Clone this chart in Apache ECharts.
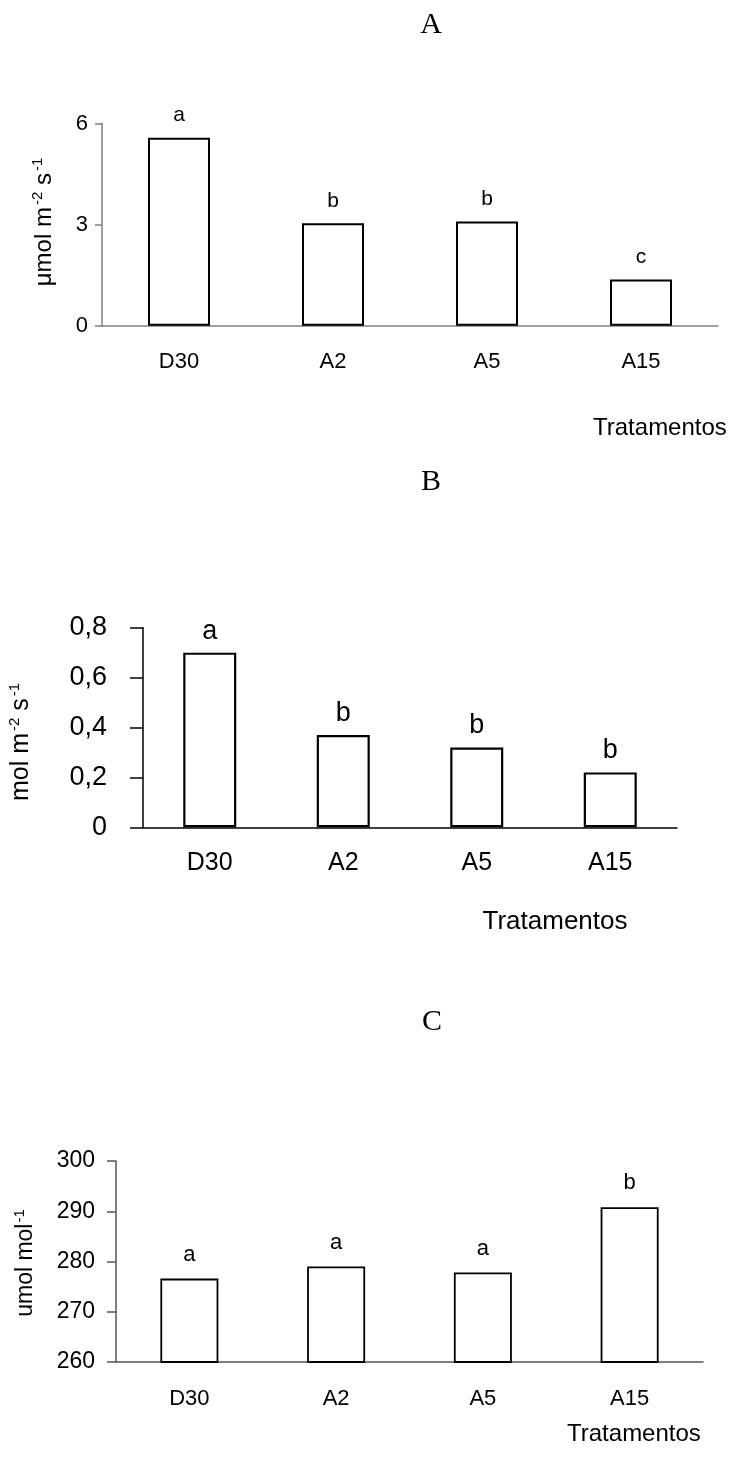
<!DOCTYPE html>
<html>
<head>
<meta charset="utf-8">
<script src="https://cdn.jsdelivr.net/npm/echarts@6/dist/echarts.min.js"></script>
<style>
html,body{margin:0;padding:0;background:#fff;}
#chart{width:734px;height:1479px;}
</style>
</head>
<body>
<div id="chart"></div>
<script>
// Shared categories
var categories = ['D30', 'A2', 'A5', 'A15'];

// Panel A
var valuesA = [5.58, 3.04, 3.09, 1.37];
var lettersA = ['a', 'b', 'b', 'c'];
var ticksA = {min: 0, max: 6, interval: 3};

// Panel B
var valuesB = [0.70, 0.37, 0.32, 0.22];
var lettersB = ['a', 'b', 'b', 'b'];
var ticksB = {min: 0, max: 0.8, interval: 0.2};

// Panel C
var valuesC = [276.6, 279.0, 277.8, 290.8];
var lettersC = ['a', 'a', 'a', 'b'];
var ticksC = {min: 260, max: 300, interval: 10};

var titles = ['A', 'B', 'C'];
var xName = 'Tratamentos';

var SANS = "'Liberation Sans', Arial, sans-serif";
var SERIF = "'Liberation Serif', 'Times New Roman', serif";

var chart = echarts.init(document.getElementById('chart'), null, {renderer: 'canvas'});

function commaFmt(v) {
  if (v === 0) return '0';
  return v.toFixed(1).replace('.', ',');
}

var option = {
  backgroundColor: '#fff',
  animation: false,
  grid: [
    {left: 102, right: 16, top: 123.5, bottom: 1479 - 325.7},
    {left: 143, right: 57, top: 627.7, bottom: 1479 - 827.3},
    {left: 116, right: 31, top: 1161, bottom: 1479 - 1362}
  ],
  xAxis: [
    {gridIndex: 0, type: 'category', data: categories,
     axisLine: {lineStyle: {color: '#808080', width: 1.5}}, axisTick: {show: false},
     axisLabel: {color: '#000', fontFamily: SANS, fontSize: 22, margin: 25}},
    {gridIndex: 1, type: 'category', data: categories,
     axisLine: {lineStyle: {color: '#000', width: 1.5}}, axisTick: {show: false},
     axisLabel: {color: '#000', fontFamily: SANS, fontSize: 25, margin: 23}},
    {gridIndex: 2, type: 'category', data: categories,
     axisLine: {lineStyle: {color: '#555', width: 1.5}}, axisTick: {show: false},
     axisLabel: {color: '#000', fontFamily: SANS, fontSize: 22, margin: 26}}
  ],
  yAxis: [
    {gridIndex: 0, type: 'value', min: ticksA.min, max: ticksA.max, interval: ticksA.interval,
     axisLine: {show: true, lineStyle: {color: '#808080', width: 1.5}},
     axisTick: {show: true, length: 7, lineStyle: {color: '#808080', width: 1.5}},
     splitLine: {show: false},
     axisLabel: {color: '#000', fontFamily: SANS, fontSize: 22, margin: 14}},
    {gridIndex: 1, type: 'value', min: ticksB.min, max: ticksB.max, interval: ticksB.interval,
     axisLine: {show: true, lineStyle: {color: '#000', width: 1.5}},
     axisTick: {show: true, length: 13, lineStyle: {color: '#000', width: 1.5}},
     splitLine: {show: false},
     axisLabel: {color: '#000', fontFamily: SANS, fontSize: 27, margin: 36, formatter: commaFmt}},
    {gridIndex: 2, type: 'value', min: ticksC.min, max: ticksC.max, interval: ticksC.interval,
     axisLine: {show: true, lineStyle: {color: '#555', width: 1.5}},
     axisTick: {show: true, length: 9, lineStyle: {color: '#555', width: 1.5}},
     splitLine: {show: false},
     axisLabel: {color: '#000', fontFamily: SANS, fontSize: 23, margin: 21}}
  ],
  series: [
    {type: 'bar', xAxisIndex: 0, yAxisIndex: 0, data: valuesA, barWidth: 62,
     itemStyle: {color: '#fff', borderColor: '#000', borderWidth: 2},
     label: {show: true, position: 'top', distance: 12, color: '#000', fontFamily: SANS, fontSize: 21,
             formatter: function (p) { return lettersA[p.dataIndex]; }}},
    {type: 'bar', xAxisIndex: 1, yAxisIndex: 1, data: valuesB, barWidth: 53,
     itemStyle: {color: '#fff', borderColor: '#000', borderWidth: 2.2},
     label: {show: true, position: 'top', distance: 8, color: '#000', fontFamily: SANS, fontSize: 27,
             formatter: function (p) { return lettersB[p.dataIndex]; }}},
    {type: 'bar', xAxisIndex: 2, yAxisIndex: 2, data: valuesC, barWidth: 58,
     itemStyle: {color: '#fff', borderColor: '#000', borderWidth: 1.8},
     label: {show: true, position: 'top', distance: 13, color: '#000', fontFamily: SANS, fontSize: 22,
             formatter: function (p) { return lettersC[p.dataIndex]; }}}
  ],
  graphic: [
    {type: 'text', x: 431, y: 25, style: {text: titles[0], font: '30px ' + SERIF, fill: '#000', textAlign: 'center', textVerticalAlign: 'middle'}},
    {type: 'text', x: 431, y: 482, style: {text: titles[1], font: '30px ' + SERIF, fill: '#000', textAlign: 'center', textVerticalAlign: 'middle'}},
    {type: 'text', x: 432, y: 1022, style: {text: titles[2], font: '30px ' + SERIF, fill: '#000', textAlign: 'center', textVerticalAlign: 'middle'}},
    {type: 'text', x: 593, y: 428, style: {text: xName, font: '24px ' + SANS, fill: '#000', textAlign: 'left', textVerticalAlign: 'middle'}},
    {type: 'text', x: 555, y: 922, style: {text: xName, font: '26px ' + SANS, fill: '#000', textAlign: 'center', textVerticalAlign: 'middle'}},
    {type: 'text', x: 567, y: 1434, style: {text: xName, font: '24px ' + SANS, fill: '#000', textAlign: 'left', textVerticalAlign: 'middle'}},
    {type: 'text', x: 44, y: 222, rotation: Math.PI / 2,
     style: {text: 'μmol m{sup|-2} s{sup|-1}', fontFamily: SANS, fontSize: 24, fill: '#000', textAlign: 'center', textVerticalAlign: 'middle',
             rich: {sup: {fontSize: 15, verticalAlign: 'top', lineHeight: 28, padding: [0, 0, 0, 2]}}}},
    {type: 'text', x: 21, y: 742, rotation: Math.PI / 2,
     style: {text: 'mol m{sup|-2} s{sup|-1}', fontFamily: SANS, fontSize: 25, fill: '#000', textAlign: 'center', textVerticalAlign: 'middle',
             rich: {sup: {fontSize: 15, verticalAlign: 'top', lineHeight: 28, padding: [0, 0, 0, 2]}}}},
    {type: 'text', x: 26, y: 1263, rotation: Math.PI / 2,
     style: {text: 'umol mol{sup|-1}', fontFamily: SANS, fontSize: 23, fill: '#000', textAlign: 'center', textVerticalAlign: 'middle',
             rich: {sup: {fontSize: 15, verticalAlign: 'top', lineHeight: 28, padding: [0, 0, 0, 1]}}}}
  ]
};
chart.setOption(option);
</script>
</body>
</html>
